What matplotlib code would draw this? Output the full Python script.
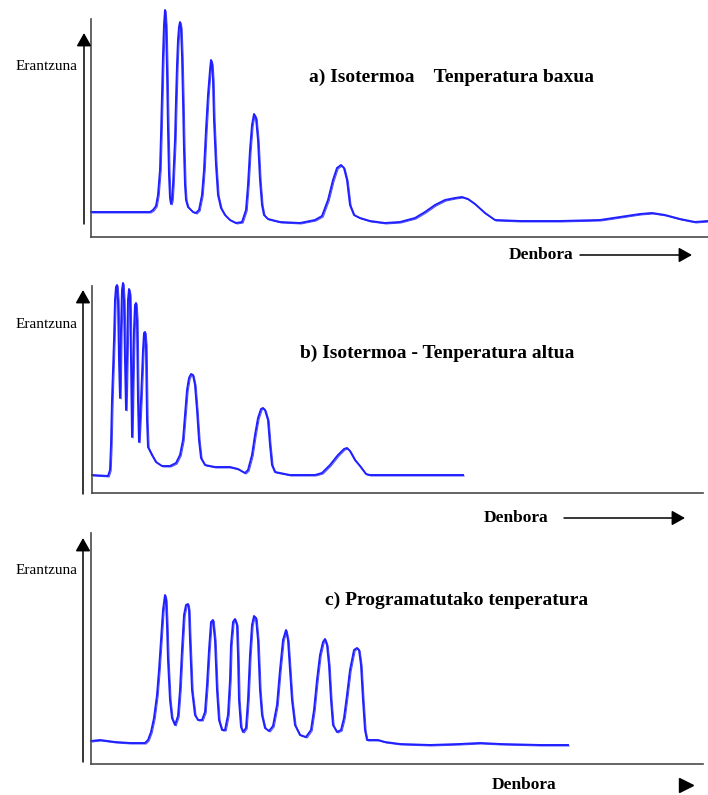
import matplotlib
matplotlib.use("Agg")
import matplotlib.pyplot as plt
from matplotlib.patches import FancyArrowPatch
from matplotlib.lines import Line2D
from matplotlib import transforms

# a) Isotermoa - tenperatura baxua
time_a = [0, 59, 62, 65, 67, 69, 70, 71, 72, 73, 74, 75, 76, 77, 78, 79, 80, 81, 82, 84,
          85, 86, 87, 88, 89, 90, 91, 92, 93, 94, 95, 97, 100, 102, 105, 108, 111, 113, 115,
          117, 119, 120, 121, 122, 123, 125, 127, 130, 134, 139, 145, 151, 155, 157, 159,
          161, 163, 165, 167, 169, 171, 173, 177, 189, 209, 224, 231, 237, 242, 246, 250,
          253, 256, 259, 263, 269, 279, 294, 309, 324, 334, 344, 354, 364, 371, 377, 384,
          394, 404, 429, 469, 509, 529, 549, 561, 574, 589, 604, 617]
resp_a = [25, 25, 27, 31, 42, 67, 102, 142, 182, 212, 227, 212, 167, 107, 62, 39, 33, 37,
          52, 97, 137, 172, 197, 210, 215, 209, 182, 137, 87, 52, 37, 30, 27, 25, 24, 27, 42,
          67, 107, 142, 167, 177, 173, 157, 117, 72, 42, 29, 22, 17, 14, 15, 27, 52, 87, 112,
          123, 119, 97, 57, 32, 22, 18, 15, 14, 17, 21, 37, 57, 69, 72, 69, 57, 32, 22, 19,
          16, 14, 15, 19, 25, 32, 37, 39, 40, 38, 33, 24, 17, 16, 16, 17, 20, 23, 24, 22, 18,
          15, 16]

# b) Isotermoa - tenperatura altua
time_b = [0, 16, 18, 19, 20, 21, 22, 23, 24, 25, 26, 27, 28, 29, 30, 31, 32, 33, 34, 35,
          36, 37, 38, 39, 40, 41, 42, 43, 44, 45, 46, 47, 49, 51, 52, 53, 54, 55, 56, 60, 64,
          70, 78, 84, 88, 91, 93, 95, 97, 99, 101, 103, 105, 107, 109, 113, 123, 138, 146,
          153, 156, 160, 163, 166, 169, 171, 173, 176, 178, 180, 183, 198, 223, 230, 238,
          246, 252, 255, 258, 263, 268, 274, 278, 371]
resp_b = [18, 17, 23, 48, 93, 123, 153, 193, 206, 208, 193, 133, 95, 163, 203, 210, 193,
          133, 83, 133, 193, 204, 198, 133, 56, 113, 163, 188, 190, 173, 93, 51, 93, 143, 160,
          161, 148, 73, 46, 38, 31, 27, 27, 30, 38, 53, 78, 103, 115, 119, 118, 108, 83, 53,
          35, 28, 26, 26, 24, 20, 23, 38, 58, 75, 84, 85, 83, 73, 48, 28, 21, 18, 18, 20, 28,
          38, 44, 45, 42, 33, 27, 19, 18, 18]

# c) Programatutako tenperatura
time_c = [0, 9, 24, 39, 54, 57, 60, 63, 66, 68, 70, 72, 74, 75, 76, 77, 79, 81, 84, 87, 89,
          91, 93, 95, 97, 98, 99, 101, 104, 107, 111, 114, 116, 118, 120, 122, 124, 126, 128,
          131, 134, 137, 139, 140, 142, 144, 146, 147, 148, 150, 152, 155, 157, 159, 161,
          163, 165, 167, 169, 171, 174, 178, 182, 186, 189, 192, 195, 197, 199, 201, 204,
          209, 215, 220, 223, 226, 229, 232, 234, 236, 238, 240, 242, 246, 250, 253, 256,
          259, 263, 266, 268, 270, 272, 274, 276, 282, 287, 294, 309, 339, 369, 389, 409,
          449, 477]
resp_c = [23, 24, 22, 21, 21, 24, 32, 46, 69, 94, 124, 154, 169, 164, 139, 104, 64, 46, 39,
          48, 74, 114, 149, 159, 160, 154, 124, 74, 49, 44, 44, 52, 79, 114, 142, 144, 124,
          74, 44, 34, 34, 49, 84, 119, 142, 145, 139, 109, 64, 37, 32, 36, 64, 109, 139, 148,
          146, 124, 74, 49, 36, 33, 38, 59, 94, 124, 134, 124, 94, 64, 39, 29, 27, 34, 54,
          84, 109, 122, 125, 119, 99, 64, 39, 32, 34, 46, 69, 94, 114, 116, 114, 99, 64, 34,
          24, 24, 24, 22, 20, 19, 20, 21, 20, 19, 19]

titles = ["a) Isotermoa    Tenperatura baxua",
          "b) Isotermoa - Tenperatura altua",
          "c) Programatutako tenperatura"]
y_label = "Erantzuna"
x_label = "Denbora"

W, H = 708, 795
BLUE = "#1f1fff"
SERIF = "Liberation Serif"


def fx(x):
    return x / W


def fy(y):
    return 1 - y / H


fig = plt.figure(figsize=(W / 100, H / 100), dpi=100)

# panel layout in pixels: left, top, right, bottom of the axes box
boxes = [(91, 19, 708, 237), (92, 286, 703, 493), (91, 533, 703, 764)]
series = [(time_a, resp_a), (time_b, resp_b), (time_c, resp_c)]
# y arrow: x, bottom, top ; title: x, y ; denbora: x, y, arrow start, arrow end
yarrows = [(84, 224, 33), (83, 494, 290), (83, 762, 538)]
ylabel_y = [66, 325, 571]
title_pos = [(309, 77), (300, 353), (325, 600)]
xlab_pos = [(509, 255, 580, 692), (484, 518, 564, 685), (492, 785, None, 692)]

for i, (l, t, r, b) in enumerate(boxes):
    ax = fig.add_axes([fx(l), fy(b), (r - l) / W, (b - t) / H])
    ax.set_xlim(0, r - l)
    ax.set_ylim(0, b - t)
    ax.set_xticks([])
    ax.set_yticks([])
    ax.patch.set_alpha(0)
    for s in ["top", "right"]:
        ax.spines[s].set_visible(False)
    for s in ["left", "bottom"]:
        ax.spines[s].set_color("#4a4a4a")
        ax.spines[s].set_linewidth(1.2)

    tx, ry = series[i]
    ax.plot(tx, ry, color=BLUE, lw=1.4, clip_on=False)
    # second, slightly shifted trace gives the doubled hand-drawn look
    shadow = transforms.offset_copy(ax.transData, fig=fig, x=1.2, y=-1.0, units="dots")
    ax.plot(tx, ry, color=BLUE, lw=0.7, alpha=0.8, clip_on=False, transform=shadow)

    # response arrow
    xa, yb, yt = yarrows[i]
    fig.add_artist(FancyArrowPatch((fx(xa), fy(yb)), (fx(xa), fy(yt)),
                                   transform=fig.transFigure, color="black", lw=1.1,
                                   arrowstyle="-|>,head_length=0.8,head_width=0.45",
                                   mutation_scale=10, shrinkA=0, shrinkB=0))
    fig.text(fx(47), fy(ylabel_y[i]), y_label, family=SERIF, fontsize=11,
             ha="center", va="center")
    fig.text(fx(title_pos[i][0]), fy(title_pos[i][1]), titles[i], family=SERIF,
             fontsize=14, fontweight="bold", ha="left", va="center")

    lx, ly, a0, a1 = xlab_pos[i]
    fig.text(fx(lx), fy(ly), x_label, family=SERIF, fontsize=12.5, fontweight="bold",
             ha="left", va="center")
    if a0 is not None:
        fig.add_artist(FancyArrowPatch((fx(a0), fy(ly)), (fx(a1), fy(ly)),
                                       transform=fig.transFigure, color="black", lw=1.1,
                                       arrowstyle="-|>,head_length=0.8,head_width=0.45",
                                       mutation_scale=10, shrinkA=0, shrinkB=0))
    else:
        fig.add_artist(Line2D([fx(a1 - 6)], [fy(ly)], transform=fig.transFigure,
                              marker=">", markersize=10, color="black", lw=0))

fig.savefig("out.png", dpi=100)
